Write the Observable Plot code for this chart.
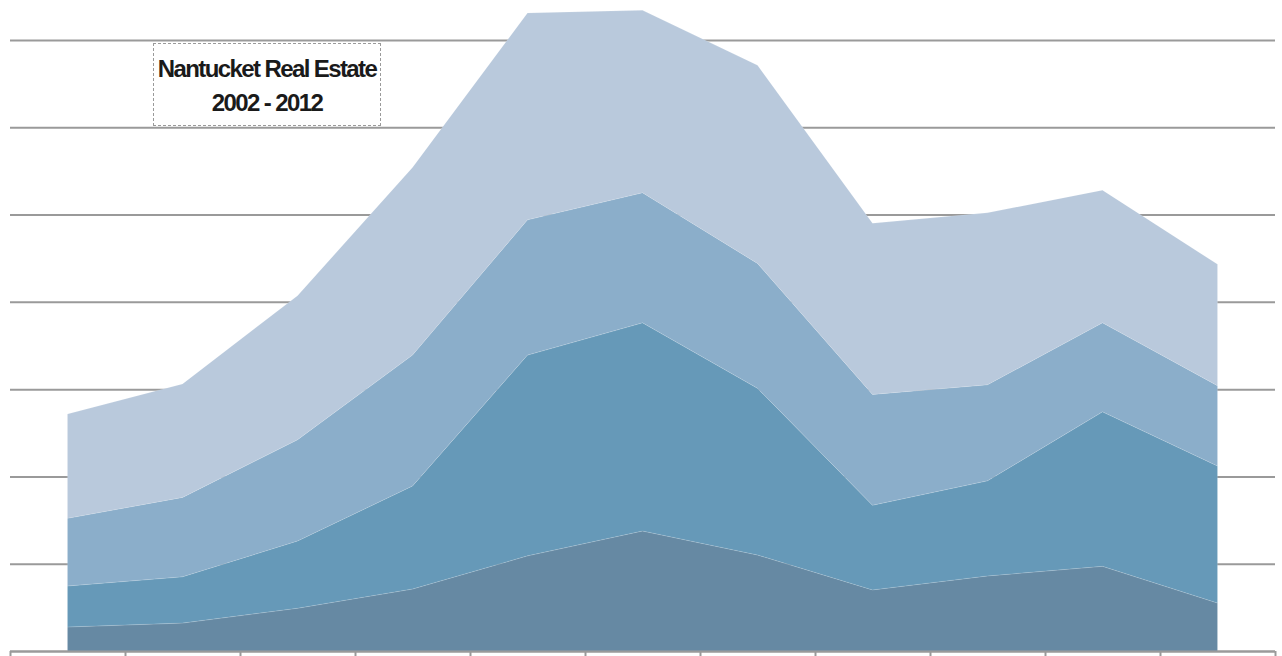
<!DOCTYPE html>
<html>
<head>
<meta charset="utf-8">
<script src="https://cdn.jsdelivr.net/npm/d3@7"></script>
<script src="https://cdn.jsdelivr.net/npm/@observablehq/plot@0.6"></script>
<style>
  html, body { margin: 0; padding: 0; background: #fff; }
  #wrap { position: relative; width: 1282px; height: 656px; overflow: hidden; }
  #wrap svg { position: absolute; left: 0; top: 0; }
  #title {
    position: absolute; left: 153px; top: 43px; width: 228px; height: 83px;
    border: 1px dashed #9a9a9a; box-sizing: border-box; background: #fff;
    font-family: "Liberation Sans", Arial, sans-serif; font-weight: bold;
    font-size: 24px; letter-spacing: -1.6px; line-height: 34px; color: #1a1a1a;
    text-align: center; padding-top: 8px; z-index: 2; white-space: nowrap;
  }
</style>
</head>
<body>
<div id="wrap"><div id="title">Nantucket Real Estate<br>2002 - 2012</div></div>
<script>
const years = [2002, 2003, 2004, 2005, 2006, 2007, 2008, 2009, 2010, 2011, 2012];
const seriesNames = ["Series 1", "Series 2", "Series 3", "Series 4"];
const series1 = [27.5, 32, 49, 71, 109, 137.5, 110, 70, 86, 97, 55];
const series2 = [47, 53, 77, 118, 230, 238.5, 191, 97, 109, 177, 157];
const series3 = [77.5, 91, 116, 150, 155, 149, 143, 127, 110, 102, 92];
const series4 = [119.5, 130, 165, 215, 237, 209, 227, 196, 197, 152, 139];
const gridValues = [0, 100, 200, 300, 400, 500, 600, 700];
const colors = ["#6689a3", "#6699b8", "#8baeca", "#b9c9dc"];

const allSeries = [series1, series2, series3, series4];
const data = [];
years.forEach((yr, i) => {
  allSeries.forEach((s, k) => data.push({year: yr, series: seriesNames[k], value: s[i]}));
});
const tickEdges = d3.range(years.length + 1).map(i => years[0] - 0.5 + i);

const chart = Plot.plot({
  width: 1282,
  height: 656,
  marginTop: 40,
  marginBottom: 5,
  marginLeft: 10,
  marginRight: 7,
  style: {overflow: "visible"},
  x: {domain: [years[0] - 0.5, years[years.length - 1] + 0.5], axis: null},
  y: {domain: [0, 700], axis: null},
  color: {domain: seriesNames, range: colors},
  marks: [
    Plot.ruleY(gridValues, {stroke: "#9a9a9a", strokeWidth: 2}),
    Plot.areaY(data, {x: "year", y: "value", fill: "series", stroke: "#ffffff", strokeOpacity: 0.15, strokeWidth: 0.8}),
    Plot.ruleY([0], {stroke: "#9a9a9a", strokeWidth: 2}),
    Plot.ruleX(tickEdges, {x: d => d, y1: 0, y2: 0, insetBottom: -8, stroke: "#9a9a9a", strokeWidth: 2}),
  ]
});
document.getElementById("wrap").appendChild(chart);
</script>
</body>
</html>
